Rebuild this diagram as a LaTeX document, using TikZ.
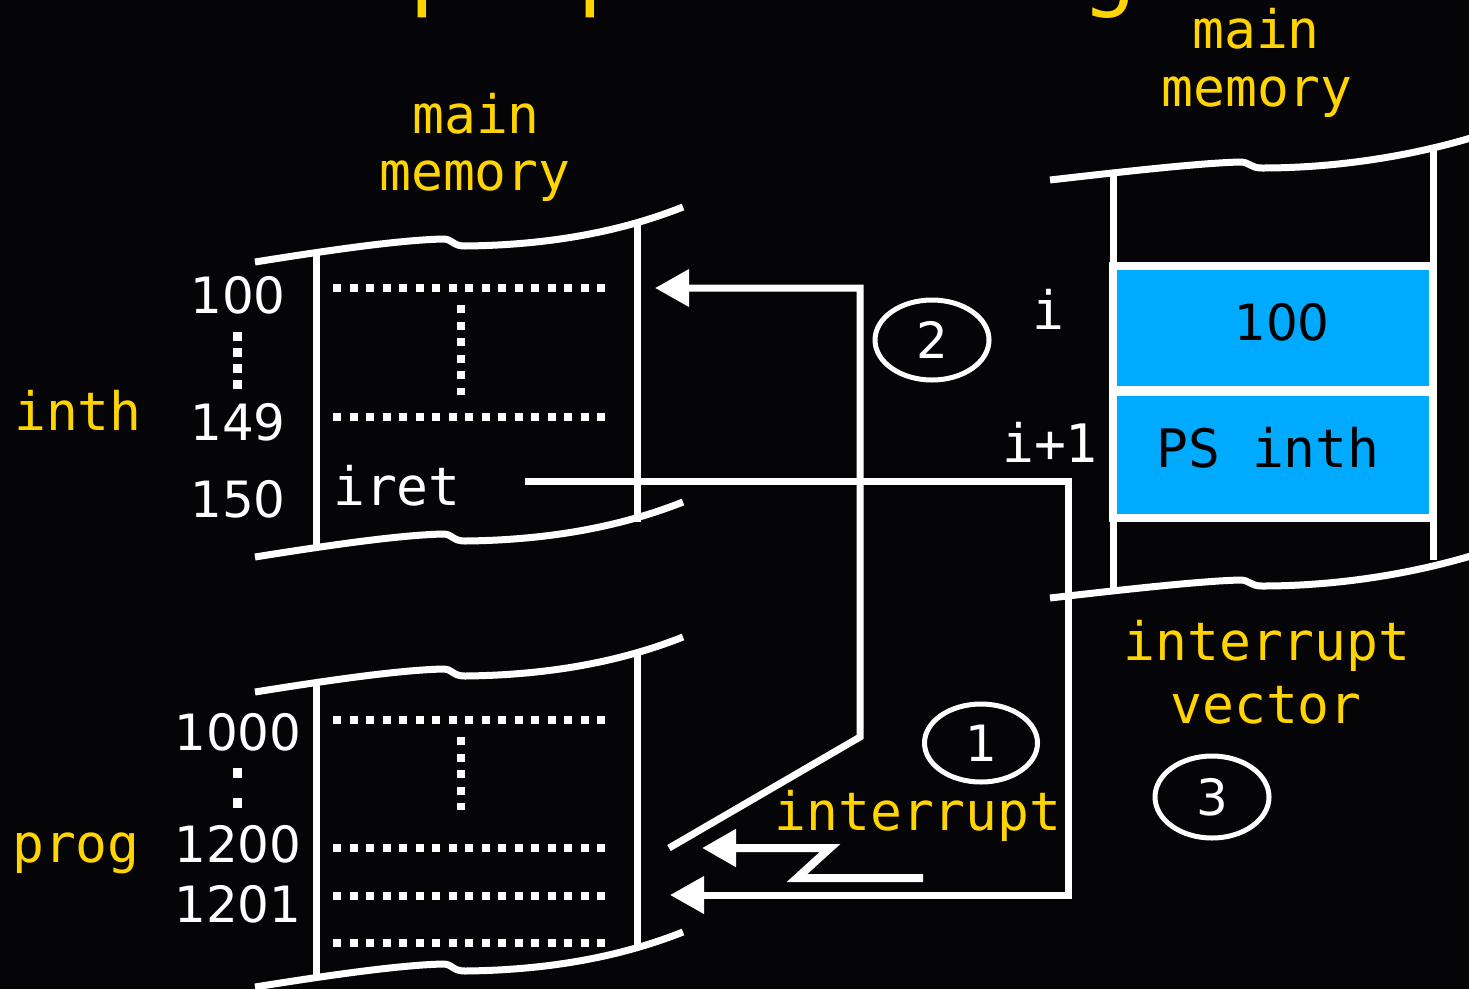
\documentclass[tikz,border=0pt]{standalone}
\usepackage{fontspec}
\usetikzlibrary{arrows.meta,shapes.geometric}
\newfontfamily\monof{DejaVu Sans Mono}
\newfontfamily\sansf{DejaVu Sans}
\definecolor{bg}{RGB}{5,5,8}
\definecolor{gold}{RGB}{255,212,0}
\definecolor{vblue}{RGB}{0,170,255}
\newcommand\memcurveL{(255,262) .. controls (330,250) and (400,240) .. (443,239) .. controls (453,239) and (452,246) .. (465,246) .. controls (560,245) and (630,228) .. (683,207)}
\newcommand\memcurveR{(1050,180) .. controls (1120,172) and (1200,163) .. (1240,162) .. controls (1250,162) and (1250,168) .. (1262,168) .. controls (1340,168) and (1420,155) .. (1490,132)}
\begin{document}
\begin{tikzpicture}[x=1pt,y=-1pt,
  lbl/.style={text=gold,font=\monof\fontsize{53}{57}\selectfont,inner sep=0pt,anchor=base},
  num/.style={text=white,font=\sansf\fontsize{50}{57}\selectfont,inner sep=0pt,anchor=base},
  wmono/.style={text=white,font=\monof\fontsize{53}{57}\selectfont,inner sep=0pt,anchor=base},
  wire/.style={draw=white,line width=7pt,line join=miter},
  memline/.style={draw=white,line width=7pt},
  dotrow/.style={draw=white,line width=7.5pt,dash pattern=on 8pt off 8.5pt},
  arr/.style={-{Triangle[length=34pt,width=36pt]}},
  badge/.style={ellipse,draw=white,line width=5pt,inner sep=0pt,text=white,font=\sansf\fontsize{50}{57}\selectfont},
  cell/.style={rectangle,draw=white,fill=vblue,line width=8pt,inner sep=0pt},
]
\useasboundingbox (0,0) rectangle (1469,989);
\fill[bg] (0,0) rectangle (1469,989);

% title (cut off at top, as in the reference)
\node[text=gold,font=\monof\fontsize{93}{100}\selectfont,inner sep=0pt,anchor=base] (title) at (578,-2) {Interrupt processing};

% ---------- top-left memory block (inth) ----------
\draw[memline] \memcurveL;
\draw[memline,shift={(0,295)}] \memcurveL;
\coordinate (aTL) at (316,250); \coordinate (aBL) at (316,547);
\coordinate (aTR) at (637,222); \coordinate (aBR) at (637,522);
\draw[memline] (aTL) -- (aBL);
\draw[memline] (aTR) -- (aBR);
\draw[dotrow] (333,288) -- (605,288);
\draw[dotrow] (333,417) -- (605,417);
\draw[dotrow] (461,305) -- (461,395);
\node[lbl] (mmA1) at (476,133) {main};
\node[lbl] (mmA2) at (475,190) {memory};
\node[lbl] (inth) at (78,430) {inth};
\node[num] (n100) at (238,313) {100};
\node[num] (n149) at (238,440) {149};
\node[num] (n150) at (238,517) {150};
\draw[draw=white,line width=9pt,dash pattern=on 9pt off 7pt] (237,332) -- (237,389);
\node[wmono] (iret) at (397,505) {iret};

% ---------- bottom-left memory block (prog) ----------
\begin{scope}[shift={(0,430)}]
\draw[memline] \memcurveL;
\draw[memline,shift={(0,295)}] \memcurveL;
\draw[memline] (316,250) -- (316,547);
\draw[memline] (637,222) -- (637,520);
\end{scope}
\draw[dotrow] (333,720) -- (605,720);
\draw[dotrow] (333,848) -- (605,848);
\draw[dotrow] (333,896) -- (605,896);
\draw[dotrow] (333,943) -- (605,943);
\draw[dotrow] (461,737) -- (461,810);
\node[lbl] (prog) at (76,862) {prog};
\node[num] (n1000) at (238,750) {1000};
\node[num] (n1200) at (238,862) {1200};
\node[num] (n1201) at (238,922) {1201};
\draw[draw=white,line width=9pt,dash pattern=on 10pt off 20pt] (237,768) -- (237,808);

% ---------- right memory block (interrupt vector) ----------
\draw[memline] \memcurveR;
\draw[memline,shift={(0,418)}] \memcurveR;
\draw[memline] (1113,173) -- (1113,592);
\draw[memline] (1433,150) -- (1433,560);
\node[cell,minimum width=320pt,minimum height=124pt] (vec1) at (1273,328) {};
\node[cell,minimum width=320pt,minimum height=126pt] (vec2) at (1273,455) {};
\node[num,text=black] (v100) at (1282,340) {100};
\node[wmono,text=black] (vps) at (1268,467) {PS inth};
\node[wmono] (li) at (1048,329) {i};
\node[wmono] (li1) at (1050,462) {i+1};
\node[lbl] (mmB1) at (1256,48) {main};
\node[lbl] (mmB2) at (1257,106) {memory};
\node[lbl] (iv1) at (1267,660) {interrupt};
\node[lbl] (iv2) at (1266,723) {vector};

% ---------- step badges ----------
\node[badge,minimum width=114pt,minimum height=80pt] (s2) at (932,340) {2};
\node[badge,minimum width=113pt,minimum height=78pt] (s1) at (981,743) {1};
\node[badge,minimum width=114pt,minimum height=82pt] (s3) at (1212,797) {3};

% ---------- connectors ----------
\coordinate (row100) at (655,288);
\coordinate (bUp) at (860,288);
\coordinate (bDn) at (860,737);
\coordinate (diagEnd) at (669,848);
\draw[wire,arr] (diagEnd) -- (bDn) -- (bUp) -- (row100);

\coordinate (iretEnd) at (525,481);
\coordinate (cR1) at (1068,481);
\coordinate (cR2) at (1068,895);
\coordinate (row1201) at (670,895);
\draw[wire,arr] (iretEnd) -- (cR1) -- (cR2) -- (row1201);

\coordinate (zA) at (923,878);
\coordinate (zB) at (797,878);
\coordinate (zC) at (830,848);
\coordinate (zTip) at (702,848);
\draw[wire,line width=8pt,arr] (zA) -- (zB) -- (zC) -- (zTip);
\node[lbl] (intr) at (918,830) {interrupt};
\end{tikzpicture}
\end{document}
